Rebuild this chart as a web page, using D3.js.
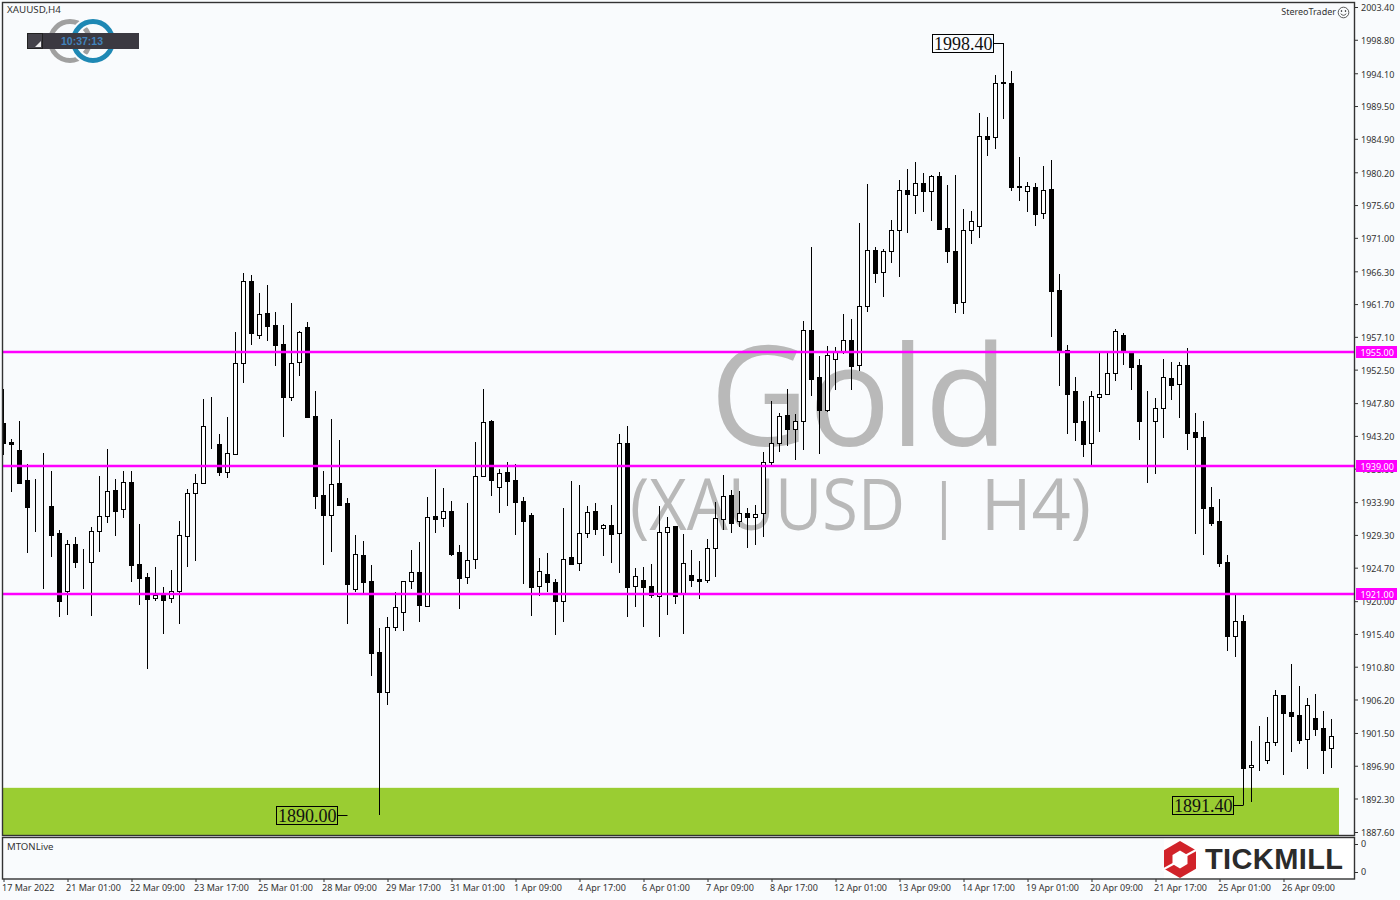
<!DOCTYPE html>
<html>
<head>
<meta charset="utf-8">
<script src="https://cdn.jsdelivr.net/npm/d3@7/dist/d3.min.js"></script>
<style>
html,body{margin:0;padding:0;background:#f9fbfd;}
svg{display:block;}
text{font-family:"Noto Sans",sans-serif;}
</style>
</head>
<body>
<svg id="c" width="1400" height="900"></svg>
<script>
const opens=[1944.96,1942.34,1941.17,1936.96,1933.31,1933.31,1933.31,1929.52,1921.47,1927.98,
1925.45,1925.45,1929.80,1931.91,1935.56,1932.89,1936.68,1925.17,1923.35,1920.40,
1920.91,1920.40,1921.47,1929.19,1935.14,1936.54,1942.02,1942.02,1938.08,1940.61,
1953.39,1964.90,1957.32,1960.40,1958.72,1956.05,1948.61,1953.53,1958.44,1945.95,
1934.86,1932.14,1936.54,1933.73,1921.66,1926.43,1922.78,1912.81,1907.20,1916.32,
1918.43,1922.78,1924.04,1919.36,1931.95,1931.62,1932.60,1926.85,1923.34,1925.87,
1937.61,1945.24,1935.97,1938.08,1936.96,1934.01,1932.04,1922.08,1923.76,1922.64,
1919.97,1926.15,1925.31,1929.52,1932.60,1930.22,1930.64,1929.52,1942.15,1922.08,
1922.92,1922.08,1920.67,1929.66,1930.50,1921.05,1923.63,1923.11,1922.92,1927.42,
1931.49,1934.86,1931.21,1932.33,1931.86,1932.33,1939.49,1942.15,1946.09,1944.21,
1945.24,1958.02,1951.42,1946.88,1953.95,1955.02,1956.61,1953.10,1961.39,1969.25,
1966.15,1969.10,1972.05,1977.66,1976.96,1978.65,1977.52,1979.63,1972.33,1969.10,
1962.04,1972.05,1972.61,1985.24,1985.10,1992.82,1992.68,1978.27,1977.52,1978.09,
1974.44,1977.80,1963.63,1955.20,1949.45,1945.24,1942.15,1948.70,1949.03,1951.97,
1957.31,1954.92,1953.10,1945.24,1945.24,1947.15,1951.27,1950.43,1953.10,1943.69,
1942.99,1933.16,1931.20,1925.44,1915.15,1917.16,1896.67,1897.18,1897.74,1900.18,
1906.77,1904.39,1903.97,1900.60,1903.55,1902.14,1899.33];
const highs=[1949.74,1942.72,1945.24,1939.21,1937.10,1940.75,1938.23,1929.94,1928.59,1928.96,
1927.28,1930.36,1937.52,1941.31,1937.10,1938.23,1938.23,1930.79,1923.91,1924.75,
1921.94,1924.33,1931.21,1935.70,1937.80,1948.33,1948.61,1943.42,1945.81,1957.74,
1966.02,1965.74,1963.21,1964.33,1960.54,1958.72,1961.81,1957.88,1959.14,1949.45,
1938.23,1945.52,1942.58,1934.44,1929.24,1928.39,1925.02,1916.18,1917.73,1921.23,
1922.87,1927.13,1928.25,1934.57,1938.50,1935.83,1934.01,1927.83,1933.73,1942.29,
1949.73,1945.38,1938.50,1939.48,1939.20,1934.57,1932.32,1926.01,1926.71,1923.06,
1933.03,1936.82,1936.25,1933.31,1933.73,1930.78,1933.45,1943.41,1944.54,1924.60,
1924.74,1925.17,1933.31,1931.76,1930.50,1929.38,1927.13,1925.59,1928.68,1933.87,
1937.66,1935.56,1935.42,1933.03,1933.45,1940.89,1948.05,1946.37,1949.73,1946.23,
1959.28,1969.67,1954.37,1955.77,1955.63,1960.26,1959.56,1973.08,1978.55,1969.67,
1969.38,1973.45,1979.07,1980.61,1981.59,1980.05,1979.77,1980.19,1978.37,1979.77,
1975.00,1974.72,1988.47,1987.91,1993.81,1998.40,1994.37,1982.30,1978.79,1978.65,
1981.03,1981.88,1965.87,1955.90,1951.41,1948.04,1949.45,1954.92,1954.92,1958.15,
1957.59,1954.92,1953.94,1949.45,1948.46,1953.94,1953.52,1953.52,1955.48,1946.36,
1945.24,1935.97,1934.29,1926.43,1920.95,1918.00,1900.32,1902.42,1903.69,1907.52,
1906.77,1911.13,1908.04,1906.35,1906.92,1904.53,1903.41];
const lows=[1940.52,1935.37,1936.63,1926.81,1929.76,1921.66,1926.25,1917.82,1918.11,1924.70,
1921.76,1917.97,1926.95,1931.02,1929.19,1931.72,1922.74,1919.51,1910.53,1920.07,
1915.44,1919.79,1916.84,1924.84,1925.69,1936.54,1941.31,1937.62,1937.34,1940.61,
1950.67,1956.01,1956.85,1956.57,1953.06,1943.09,1948.14,1951.65,1945.76,1932.98,
1925.12,1926.95,1933.41,1916.84,1921.33,1921.09,1909.54,1890.00,1905.47,1915.85,
1915.85,1921.70,1917.12,1919.13,1929.61,1930.45,1926.38,1918.94,1922.45,1924.56,
1937.47,1934.80,1932.42,1933.40,1929.33,1922.45,1917.96,1920.77,1921.33,1915.29,
1917.12,1925.26,1924.28,1928.81,1929.33,1926.38,1925.40,1924.00,1917.82,1919.22,
1916.42,1920.39,1915.01,1918.10,1919.64,1915.43,1922.03,1920.35,1922.60,1923.44,
1929.94,1929.52,1930.46,1927.51,1927.93,1929.05,1939.07,1940.98,1941.83,1939.86,
1941.27,1948.85,1940.70,1946.60,1949.69,1954.74,1949.69,1952.35,1960.64,1964.61,
1962.74,1967.51,1965.55,1971.72,1974.39,1974.67,1973.41,1972.10,1967.51,1960.49,
1960.35,1970.18,1971.02,1982.53,1983.51,1987.72,1977.62,1976.21,1974.67,1972.70,
1973.69,1957.12,1950.24,1943.50,1942.52,1940.28,1939.06,1943.79,1949.03,1950.94,
1953.19,1949.68,1942.66,1936.63,1937.89,1942.94,1948.28,1945.75,1941.26,1929.47,
1926.52,1930.59,1924.84,1913.04,1912.20,1891.40,1891.85,1896.20,1897.18,1899.71,
1895.64,1898.87,1899.99,1896.48,1901.11,1895.78,1896.62];
const closes=[1942.25,1942.11,1936.63,1933.27,1933.31,1933.31,1929.34,1920.07,1927.98,1925.55,
1925.45,1929.80,1931.91,1935.42,1932.70,1936.68,1925.12,1923.30,1920.35,1920.91,
1920.21,1921.47,1929.34,1935.14,1936.54,1944.54,1942.02,1938.18,1940.75,1953.39,
1964.90,1957.69,1960.26,1958.67,1956.01,1948.71,1953.39,1957.74,1945.90,1934.81,
1932.14,1936.40,1933.55,1922.36,1926.57,1922.73,1912.77,1907.29,1916.32,1919.22,
1922.87,1924.04,1919.50,1931.76,1931.58,1932.60,1926.66,1923.29,1925.82,1937.61,
1945.10,1937.05,1937.94,1936.91,1933.96,1931.29,1922.03,1924.28,1922.64,1920.07,
1925.96,1925.26,1929.52,1932.46,1930.17,1930.64,1929.47,1942.15,1922.03,1923.57,
1922.03,1920.81,1929.66,1930.36,1920.77,1925.40,1922.92,1922.88,1927.42,1931.63,
1934.71,1931.02,1932.33,1931.86,1932.19,1939.49,1942.15,1945.94,1944.21,1945.24,
1958.02,1951.23,1946.88,1954.51,1954.93,1956.61,1953.06,1961.39,1969.25,1966.02,
1969.10,1972.05,1977.66,1977.20,1978.65,1977.62,1979.63,1972.24,1969.10,1961.90,
1972.05,1973.31,1985.24,1984.92,1992.68,1992.68,1978.18,1978.09,1978.23,1974.39,
1977.66,1963.58,1955.01,1949.12,1945.19,1942.10,1948.75,1949.03,1951.97,1957.87,
1954.92,1952.91,1945.33,1945.24,1947.06,1951.41,1950.38,1953.10,1943.65,1943.08,
1933.12,1931.01,1925.40,1915.15,1917.16,1896.62,1897.04,1897.18,1900.18,1906.77,
1904.34,1903.92,1900.55,1905.37,1902.10,1899.15,1901.02];
const priceTicks=[2003.40,1998.80,1994.10,1989.50,1984.90,1980.20,1975.60,1971.00,1966.30,1961.70,1957.10,1952.50,1947.80,1943.20,1938.60,1933.90,1929.30,1924.70,1920.00,1915.40,1910.80,1906.20,1901.50,1896.90,1892.30,1887.60];
const timeLabels=["17 Mar 2022","21 Mar 01:00","22 Mar 09:00","23 Mar 17:00","25 Mar 01:00","28 Mar 09:00","29 Mar 17:00","31 Mar 01:00","1 Apr 09:00","4 Apr 17:00","6 Apr 01:00","7 Apr 09:00","8 Apr 17:00","12 Apr 01:00","13 Apr 09:00","14 Apr 17:00","19 Apr 01:00","20 Apr 09:00","21 Apr 17:00","25 Apr 01:00","26 Apr 09:00"];
const levels=[1955,1939,1921];
const zoneBounds=[1893.80,1887.10];
const callouts=[{t:"1998.40",i:125,v:1998.40},{t:"1890.00",i:47,v:1890.00},{t:"1891.40",i:155,v:1891.40}];

const BG="#f9fbfd", INK="#333", FS=9;
const svg=d3.select("#c");
const x=d3.scaleLinear().domain([0,166]).range([3.5,1331.5]);
const y=d3.scaleLinear().domain([1887.6,2003.4]).range([832,7]);
const sy=v=>Math.round(y(v))+0.5;

svg.append("defs").append("clipPath").attr("id","plot").append("rect").attr("x",3).attr("y",3).attr("width",1351).attr("height",832);

svg.append("rect").attr("width",1400).attr("height",900).attr("fill",BG);

// watermark
const WM="#b9b9b9";
svg.append("text").attr("x",710).attr("y",446).attr("font-size",140).attr("fill",WM).attr("textLength",298).attr("lengthAdjust","spacingAndGlyphs").style("font-family","'Open Sans'").text("Gold");
const sub=svg.append("text").attr("y",530).attr("font-size",72).attr("fill",WM).style("font-family","'Open Sans'");
sub.append("tspan").attr("x",630).attr("textLength",275).attr("lengthAdjust","spacingAndGlyphs").text("(XAUUSD");
sub.append("tspan").text(" ").attr("font-size",10);
sub.append("tspan").attr("x",928).attr("y",526).attr("font-size",58).text("|");
sub.append("tspan").text(" ").attr("font-size",10);
sub.append("tspan").attr("x",981).attr("y",530).attr("textLength",110).attr("lengthAdjust","spacingAndGlyphs").text("H4)");

const plot=svg.append("g").attr("clip-path","url(#plot)");

// green zone
plot.append("rect").attr("x",3).attr("width",1336).attr("y",y(zoneBounds[0])).attr("height",y(zoneBounds[1])-y(zoneBounds[0])).attr("fill","#9acd32");

// candles
const idx=d3.range(opens.length);
const cg=plot.selectAll("g.c").data(idx).join("g").attr("class","c");
cg.append("line").attr("x1",i=>x(i)).attr("x2",i=>x(i)).attr("y1",i=>Math.round(y(highs[i]))).attr("y2",i=>Math.round(y(lows[i]))).attr("stroke","#000").attr("stroke-width",1);
cg.append("rect")
  .attr("x",i=>x(i)-2)
  .attr("width",4)
  .attr("y",i=>sy(Math.max(opens[i],closes[i])))
  .attr("height",i=>Math.max(sy(Math.min(opens[i],closes[i]))-sy(Math.max(opens[i],closes[i])),0))
  .attr("fill",i=>closes[i]>opens[i]?"#fff":"#000")
  .attr("stroke","#000").attr("stroke-width",1);

// horizontal levels
plot.selectAll("line.lv").data(levels).join("line").attr("class","lv").attr("x1",3).attr("x2",1354).attr("y1",d=>Math.round(y(d))).attr("y2",d=>Math.round(y(d))).attr("stroke","#ff00ff").attr("stroke-width",2.4);

// callouts
const boxes=[{w:61,dx:-71.5,dy:-9},{w:61,dx:-103.5,dy:-9},{w:61,dx:-71.5,dy:-9}];
callouts.forEach((c,k)=>{
  const cx=x(c.i), cy=Math.round(y(c.v))+0.5, b=boxes[k];
  const bx=Math.round(cx+b.dx)+0.5, by=cy+b.dy;
  const g=svg.append("g");
  g.append("rect").attr("x",bx).attr("y",by).attr("width",b.w).attr("height",18).attr("fill",k===0?BG:"none").attr("stroke","#000");
  if(k===0) g.append("path").attr("d",`M${bx+b.w},${cy}H${cx}V${y(highs[c.i])+32}`).attr("fill","none").attr("stroke","#000");
  else if(k===1) g.append("path").attr("d",`M${bx+b.w},${cy}H${bx+b.w+10}`).attr("fill","none").attr("stroke","#000");
  else g.append("path").attr("d",`M${bx+b.w},${cy}H${cx}`).attr("fill","none").attr("stroke","#000");
  g.append("text").attr("x",bx+1.5).attr("y",by+15).attr("font-size",18).style("font-family","'Liberation Serif'").attr("fill","#111").text(c.t);
});

// sub panel & logo
svg.append("rect").attr("x",1164).attr("y",838).attr("width",190).attr("height",41).attr("fill","#fff");
const hex=(cx,cy,rx,ry)=>[[cx,cy-ry],[cx+rx,cy-ry/2],[cx+rx,cy+ry/2],[cx,cy+ry],[cx-rx,cy+ry/2],[cx-rx,cy-ry/2]].join(" ");
svg.append("polygon").attr("points",hex(1180,859.5,16,18.5)).attr("fill","#d1232a");
svg.append("polygon").attr("points",hex(1180,859.5,7.5,9)).attr("fill","#fff");
svg.append("line").attr("x1",1162).attr("y1",870).attr("x2",1175).attr("y2",863).attr("stroke","#fff").attr("stroke-width",2);
svg.append("line").attr("x1",1198).attr("y1",849).attr("x2",1185).attr("y2",856).attr("stroke","#fff").attr("stroke-width",2);
svg.append("text").attr("x",1205).attr("y",869).attr("font-size",29).attr("font-weight",700).attr("fill","#2b2b2b").attr("textLength",138).style("font-family","'Liberation Sans'").text("TICKMILL");

// frames
svg.append("rect").attr("x",2.5).attr("y",2.5).attr("width",1352).attr("height",833).attr("fill","none").attr("stroke",INK).attr("stroke-width",1.4);
svg.append("rect").attr("x",2.5).attr("y",837.5).attr("width",1352).attr("height",41.5).attr("fill","none").attr("stroke",INK).attr("stroke-width",1.4);

// axes
const styleAxis=g=>{g.select(".domain").remove();g.selectAll("text").attr("fill",INK).attr("font-size",FS).style("font-family","'Noto Sans'");g.selectAll(".tick line").attr("stroke",INK);};
svg.append("g").attr("transform","translate(1354,0)")
 .call(d3.axisRight(y).tickValues(priceTicks).tickFormat(d3.format(".2f")).tickSize(4).tickPadding(3))
 .call(styleAxis)
 .call(g=>g.selectAll("text").attr("dy","0.42em"));
const tickIdx=timeLabels.map((_,i)=>i*8);
svg.append("g").attr("transform","translate(0,879)")
 .call(d3.axisBottom(x).tickValues(tickIdx).tickFormat((d,i)=>timeLabels[i]).tickSize(3).tickPadding(3))
 .call(styleAxis)
 .call(g=>g.selectAll("text").attr("text-anchor","start").attr("dx",-2));

// sub panel axis
const subY=d3.scalePoint().domain(["a","b"]).range([844,872]);
svg.append("g").attr("transform","translate(1354,0)")
 .call(d3.axisRight(subY).tickFormat(()=>"0").tickSize(4).tickPadding(3))
 .call(styleAxis);

// level labels
const lab=svg.selectAll("g.ll").data(levels).join("g").attr("class","ll").attr("transform",d=>`translate(1356,${Math.round(y(d))})`);
lab.append("rect").attr("x",0).attr("y",-6).attr("width",41).attr("height",12).attr("fill","#ff00ff");
lab.append("text").attr("x",4.5).attr("y",3.5).attr("font-size",FS).attr("fill","#fff").text(d=>d.toFixed(2));

// text labels
const lbl=(t,xx,yy,a,fs)=>svg.append("text").attr("x",xx).attr("y",yy).attr("font-size",fs||FS).attr("fill",INK).attr("text-anchor",a||"start").text(t);
lbl("XAUUSD,H4",7,13,"start",9.8);
lbl("MTONLive",7,850,"start",9.6);
lbl("StereoTrader",1336,15,"end",9);
const sm=svg.append("g").attr("transform","translate(1343.5,12.5)").attr("fill","none").attr("stroke",INK).attr("stroke-width",0.8);
sm.append("circle").attr("r",5.3);
sm.append("circle").attr("cx",-2).attr("cy",-1.5).attr("r",0.5).attr("fill",INK);
sm.append("circle").attr("cx",2).attr("cy",-1.5).attr("r",0.5).attr("fill",INK);
sm.append("path").attr("d","M-2.8,1.2Q0,4.4 2.8,1.2");

// clock widget
const ring=(cx,c)=>{
  svg.append("circle").attr("cx",cx).attr("cy",41).attr("r",19.5).attr("fill","none").attr("stroke",BG).attr("stroke-width",9);
  svg.append("circle").attr("cx",cx).attr("cy",41).attr("r",19.5).attr("fill","none").attr("stroke",c).attr("stroke-width",5);
};
ring(70,"#a0a0a0");
ring(93,"#1e88b4");
svg.append("rect").attr("x",27).attr("y",33).attr("width",112).attr("height",16).attr("fill","#3b3941");
svg.append("rect").attr("x",27.5).attr("y",33.5).attr("width",15).attr("height",15).attr("fill","#45434b").attr("stroke","#222");
svg.append("path").attr("d","M35,47L41,47L41,41Z").attr("fill","#eee");
svg.append("text").attr("x",82).attr("y",44.5).attr("text-anchor","middle").attr("font-size",10.5).attr("font-weight",700).attr("fill","#4283bd").style("font-family","'Liberation Sans'").text("10:37:13");
</script>
</body>
</html>
